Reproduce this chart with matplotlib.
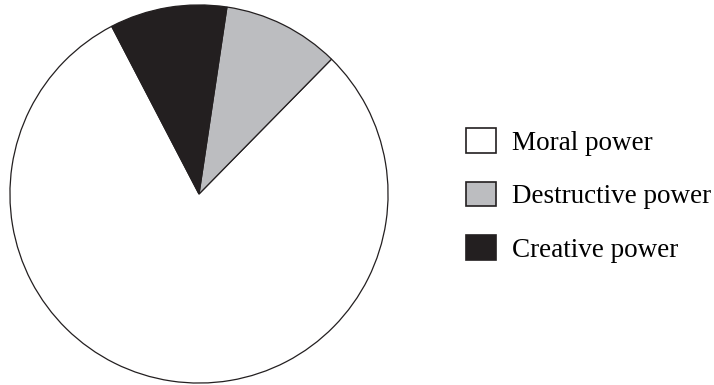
import matplotlib
matplotlib.use("Agg")
import matplotlib.pyplot as plt

labels = ["Moral power", "Destructive power", "Creative power"]
shares = [80, 10, 10]
colours = ["#ffffff", "#bcbdc0", "#231f20"]

plt.rcParams["font.family"] = ["Liberation Serif", "DejaVu Serif"]

fig = plt.figure(figsize=(7.14, 3.85), dpi=100)
ax = fig.add_axes([9 / 714, 1 / 385, 380 / 714, 380 / 385])

wedges, _ = ax.pie(shares, colors=colours, startangle=117.5, counterclock=True,
                   wedgeprops=dict(edgecolor="#231f20", linewidth=0.9))
ax.set_xlim(-1.005, 1.005)
ax.set_ylim(-1.005, 1.005)
ax.set_aspect("equal")
ax.axis("off")

# legend boxes ~30x28 px, text starting near x=513
fig.legend(wedges, labels, loc="center left", bbox_to_anchor=(466 / 714, 1 - 195.5 / 385),
           frameon=False, fontsize=19.5, borderpad=0, borderaxespad=0,
           handlelength=1.1, handleheight=1.03, handletextpad=0.6, labelspacing=0.95)
for h in fig.legends[0].legend_handles:
    h.set_linewidth(1.2)

fig.savefig("out.png", dpi=100)
